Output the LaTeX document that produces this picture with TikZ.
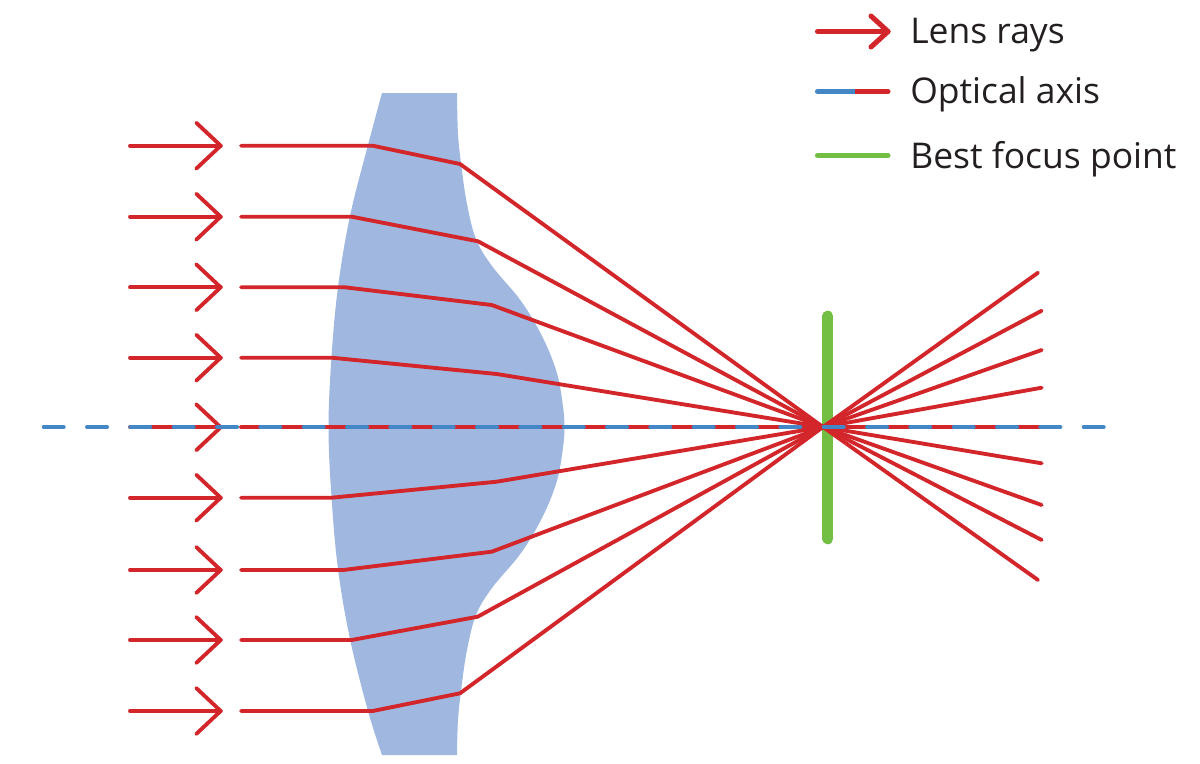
\documentclass[tikz,border=0pt]{standalone}
\usepackage{fontspec}
\setmainfont{Open Sans}
\usetikzlibrary{calc}
\definecolor{rayred}{HTML}{D3262A}
\definecolor{lensblue}{HTML}{A0B8E0}
\definecolor{axisblue}{HTML}{4387C7}
\definecolor{focusgreen}{HTML}{72BF44}
\definecolor{txt}{HTML}{231F20}
\tikzset{
  ray/.style={draw=rayred, line width=2.9pt, line cap=round, line join=round},
  legray/.style={draw=rayred, line width=3.8pt, line cap=round, line join=round},
  axisline/.style={draw=axisblue, line width=3pt, line cap=round, dash pattern=on 15pt off 17.5pt},
  legtext/.style={anchor=base west, inner sep=0pt, text=txt, font=\fontsize{26.6}{32}\selectfont}
}
\begin{document}
\begin{tikzpicture}[x=0.75pt,y=-0.75pt]
\useasboundingbox (0,0) rectangle (1200,764);
% lens
\fill[lensblue] plot[smooth, tension=0.6] coordinates {(382,93) (368,145) (350,216) (338,287) (331.5,357) (328.5,427) (331.5,497) (338,569) (350,639) (368,711) (382,755)}
  -- plot[smooth, tension=0.6] coordinates {(457,755) (458,720) (461.5,687) (467,650) (476,615) (492,588) (521,553) (542,518) (556,484) (562,455) (564.5,427) (562,399) (556,370) (542,336) (521,301) (492,266) (476,239) (467,204) (461.5,167) (458,134) (457,93)}
  -- cycle;
% best focus
\coordinate (F) at (823,427);
\draw[focusgreen, line width=8pt, line cap=round] (827.7,316) coordinate (gtop) -- (827.7,539) coordinate (gbot);
% incoming arrows
\foreach \y in {145.7,216.7,287.3,357.7,427.3,497.7,570,640,711}{
  \draw[ray] (130,\y) coordinate (a) -- (220.7,\y) coordinate (t);
  \draw[ray] ($(t)+(-24.5,-23)$) -- (t) -- ($(t)+(-24.5,23)$);
}
% refracted rays
\foreach \y/\ex/\ox/\oy/\fx/\fy in {
  145.7/372.7/460/164/1038/580,
  216.7/351.7/478/241.3/1041.7/540,
  287.3/345/491.7/305/1041.7/505,
  357.7/331.7/496.7/374/1041.7/463.3,
  497.7/331.7/496.7/481.7/1041.7/387.7,
  570/343.3/491.7/551.7/1041.7/350,
  640/351.7/477.7/616.7/1041.7/310.7,
  711/372.7/460/693.3/1038/272.7}{
  \draw[ray] (241,\y) coordinate (s) -- (\ex,\y) coordinate (e) -- (\ox,\oy) coordinate (o) -- (F) -- (\fx,\fy) coordinate (z);
}
\draw[ray] (241,427.3) coordinate (as) -- (1041.7,427.3) coordinate (ae);
% optical axis
\draw[axisline] (43.7,427) coordinate (ax1) -- (1104.7,427) coordinate (ax2);
% legend
\draw[legray] (817.5,31.5) coordinate (l1a) -- (888,31.5) coordinate (l1b);
\draw[legray] ($(l1b)+(-17,-15.5)$) -- (l1b) -- ($(l1b)+(-17,15.5)$);
\node[legtext] (t1) at (910,43) {Lens rays};
\draw[draw=axisblue, line width=3.8pt, line cap=round] (817.5,91.5) coordinate (l2a) -- (855,91.5) coordinate (l2m);
\draw[draw=rayred, line width=3.8pt, line cap=round] (855,91.5) -- (888,91.5) coordinate (l2b);
\draw[draw=axisblue, line width=3.8pt] (l2a) -- (l2m);
\node[legtext] (t2) at (910,103) {Optical axis};
\draw[draw=focusgreen, line width=3.8pt, line cap=round] (817.5,155.5) coordinate (l3a) -- (888,155.5) coordinate (l3b);
\node[legtext] (t3) at (910,168) {Best focus point};
\end{tikzpicture}
\end{document}
